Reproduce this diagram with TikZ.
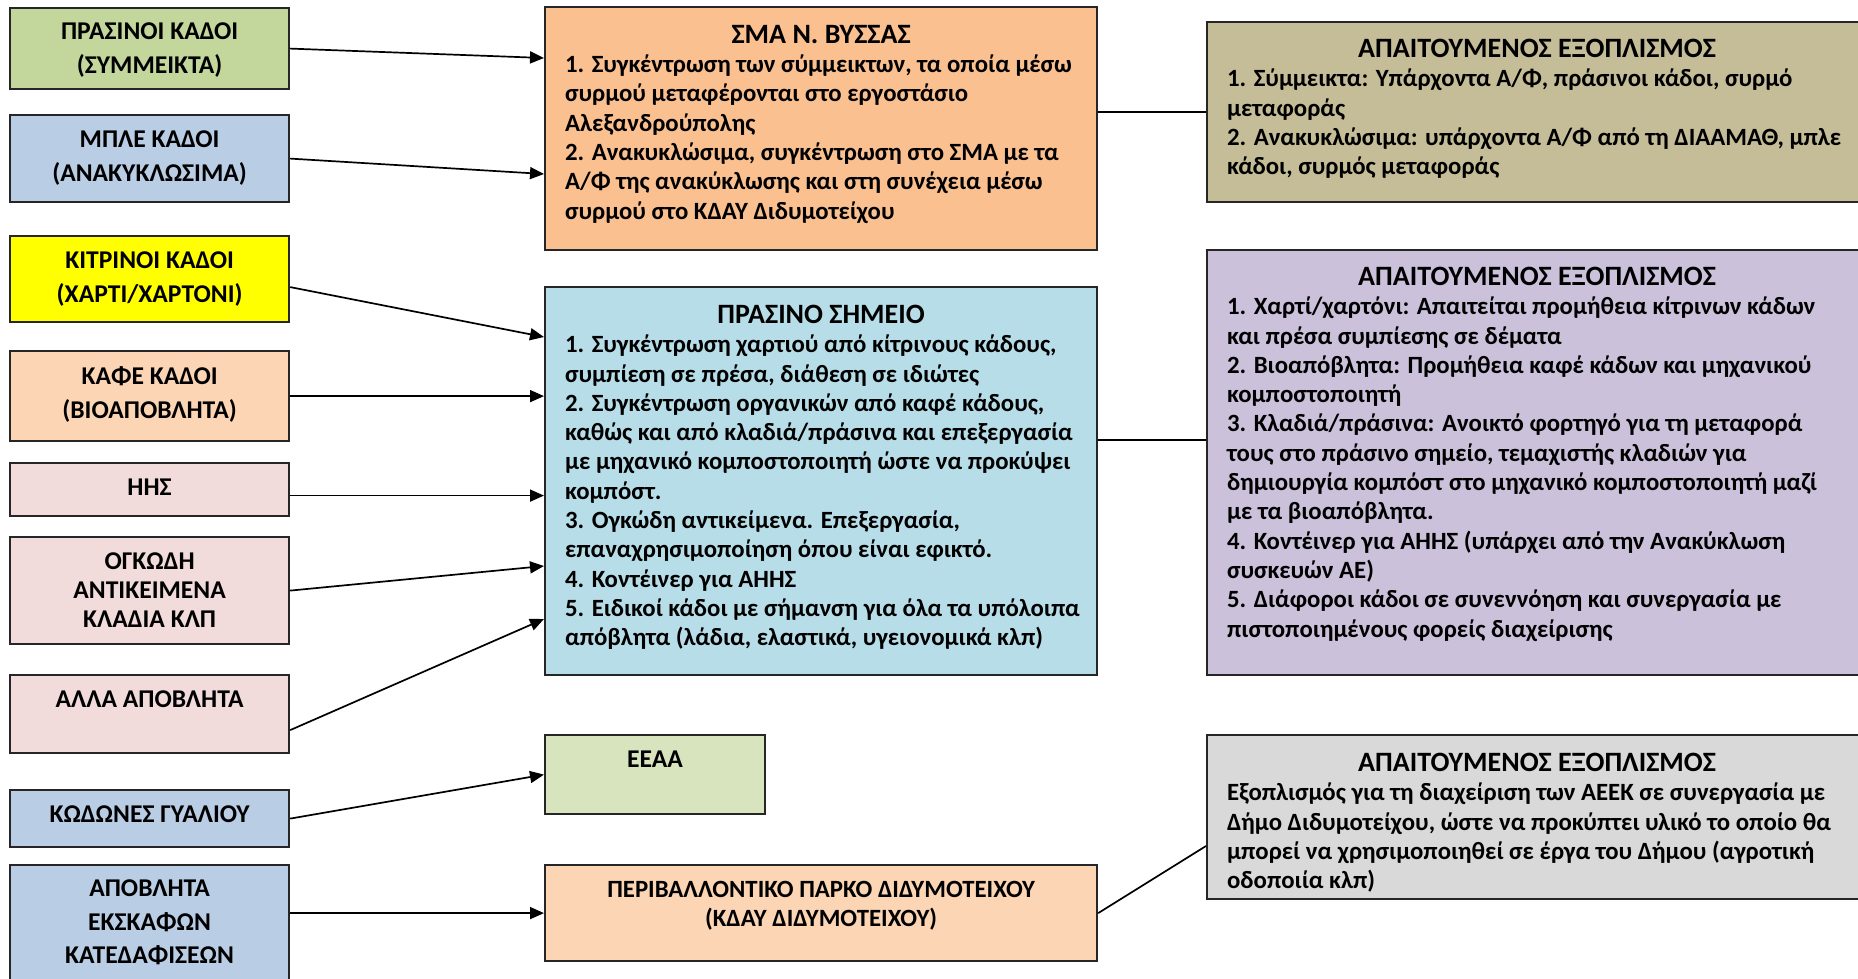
\documentclass[tikz,border=0pt]{standalone}
\usepackage{fontspec}
\setmainfont{Carlito}
\usetikzlibrary{arrows.meta}

\definecolor{mixgreen}{HTML}{C3D69B}
\definecolor{recblue}{HTML}{B9CDE5}
\definecolor{paperyellow}{HTML}{FFFF00}
\definecolor{bioorange}{HTML}{FCD5B5}
\definecolor{weeepink}{HTML}{F2DCDB}
\definecolor{smaorange}{HTML}{FAC090}
\definecolor{pointblue}{HTML}{B7DEE8}
\definecolor{eeaagreen}{HTML}{D7E4BD}
\definecolor{eqtan}{HTML}{C4BD97}
\definecolor{eqlilac}{HTML}{CCC1DA}
\definecolor{eqgrey}{HTML}{D9D9D9}

\newlength{\px}\setlength{\px}{0.5pt}
\newcommand{\boxtext}[4]{\parbox[t][#2\px][t]{#1\px}{\vspace*{#3\px}#4}}
\newcommand{\boxtitle}[1]{{\centering\fontsize{14}{15.5}\selectfont #1\par}\raggedright\leftskip=20\px\relax}

\begin{document}
\begin{tikzpicture}[x=0.5pt,y=-0.5pt,
  bin/.style={draw=black!85,line width=1.1pt,inner sep=0pt,anchor=north west,
    font=\bfseries\fontsize{12.8}{16.6}\selectfont},
  plan/.style={bin,font=\bfseries\fontsize{12.4}{14.65}\selectfont},
  feed/.style={-{Triangle[length=7pt,width=6pt]},line width=0.85pt},
  link/.style={line width=0.85pt}]
  \useasboundingbox (0,0) rectangle (1858,979);

  \node[bin,fill=mixgreen] (green) at (9,7) {\boxtext{279}{81}{15}{\centering ΠΡΑΣΙΝΟΙ ΚΑΔΟΙ\\(ΣΥΜΜΕΙΚΤΑ)}};
  \node[bin,fill=recblue] (blue) at (9,114) {\boxtext{279}{87}{16}{\centering ΜΠΛΕ ΚΑΔΟΙ\\(ΑΝΑΚΥΚΛΩΣΙΜΑ)}};
  \node[bin,fill=paperyellow] (yellow) at (9,235) {\boxtext{279}{86}{16}{\centering ΚΙΤΡΙΝΟΙ ΚΑΔΟΙ\\(ΧΑΡΤΙ/ΧΑΡΤΟΝΙ)}};
  \node[bin,fill=bioorange] (brown) at (9,350) {\boxtext{279}{90}{16}{\centering ΚΑΦΕ ΚΑΔΟΙ\\(ΒΙΟΑΠΟΒΛΗΤΑ)}};
  \node[bin,fill=weeepink] (weee) at (9,462) {\boxtext{279}{53}{16}{\centering ΗΗΣ}};
  \node[bin,fill=weeepink,font=\bfseries\fontsize{12.8}{14.5}\selectfont] (bulky) at (9,536) {\boxtext{279}{107}{16}{\centering ΟΓΚΩΔΗ\\ΑΝΤΙΚΕΙΜΕΝΑ\\ΚΛΑΔΙΑ ΚΛΠ}};
  \node[bin,fill=weeepink] (other) at (9,674) {\boxtext{279}{78}{16}{\centering ΑΛΛΑ ΑΠΟΒΛΗΤΑ}};
  \node[bin,fill=recblue] (glass) at (9,789) {\boxtext{279}{57}{16}{\centering ΚΩΔΩΝΕΣ ΓΥΑΛΙΟΥ}};
  \node[bin,fill=recblue] (debris) at (9,864) {\boxtext{279}{140}{15}{\centering ΑΠΟΒΛΗΤΑ\\ΕΚΣΚΑΦΩΝ\\ΚΑΤΕΔΑΦΙΣΕΩΝ}};

  \node[plan,fill=smaorange] (sma) at (544,6) {\boxtext{552}{243}{18}{\boxtitle{ΣΜΑ Ν. ΒΥΣΣΑΣ}
    1. Συγκέντρωση των σύμμεικτων, τα οποία μέσω\\
    συρμού μεταφέρονται στο εργοστάσιο\\
    Αλεξανδρούπολης\\
    2. Ανακυκλώσιμα, συγκέντρωση στο ΣΜΑ με τα\\
    Α/Φ της ανακύκλωσης και στη συνέχεια μέσω\\
    συρμού στο ΚΔΑΥ Διδυμοτείχου}};
  \node[plan,fill=pointblue] (point) at (544,286) {\boxtext{552}{388}{18}{\boxtitle{ΠΡΑΣΙΝΟ ΣΗΜΕΙΟ}
    1. Συγκέντρωση χαρτιού από κίτρινους κάδους,\\
    συμπίεση σε πρέσα, διάθεση σε ιδιώτες\\
    2. Συγκέντρωση οργανικών από καφέ κάδους,\\
    καθώς και από κλαδιά/πράσινα και επεξεργασία\\
    με μηχανικό κομποστοποιητή ώστε να προκύψει\\
    κομπόστ.\\
    3. Ογκώδη αντικείμενα. Επεξεργασία,\\
    επαναχρησιμοποίηση όπου είναι εφικτό.\\
    4. Κοντέινερ για ΑΗΗΣ\\
    5. Ειδικοί κάδοι με σήμανση για όλα τα υπόλοιπα\\
    απόβλητα (λάδια, ελαστικά, υγειονομικά κλπ)}};
  \node[plan,fill=eeaagreen,font=\bfseries\fontsize{12.8}{14.65}\selectfont] (eeaa) at (544,734) {\boxtext{220}{79}{16}{\centering ΕΕΑΑ}};
  \node[plan,fill=bioorange] (park) at (544,864) {\boxtext{552}{96}{16}{\centering ΠΕΡΙΒΑΛΛΟΝΤΙΚΟ ΠΑΡΚΟ ΔΙΔΥΜΟΤΕΙΧΟΥ\\(ΚΔΑΥ ΔΙΔΥΜΟΤΕΙΧΟΥ)}};

  \node[plan,fill=eqtan] (eqmix) at (1206,21) {\boxtext{660}{180}{17}{\boxtitle{ΑΠΑΙΤΟΥΜΕΝΟΣ ΕΞΟΠΛΙΣΜΟΣ}
    1. Σύμμεικτα: Υπάρχοντα Α/Φ, πράσινοι κάδοι, συρμό\\
    μεταφοράς\\
    2. Ανακυκλώσιμα: υπάρχοντα Α/Φ από τη ΔΙΑΑΜΑΘ, μπλε\\
    κάδοι, συρμός μεταφοράς}};
  \node[plan,fill=eqlilac] (eqpoint) at (1206,249) {\boxtext{660}{425}{17}{\boxtitle{ΑΠΑΙΤΟΥΜΕΝΟΣ ΕΞΟΠΛΙΣΜΟΣ}
    1. Χαρτί/χαρτόνι: Απαιτείται προμήθεια κίτρινων κάδων\\
    και πρέσα συμπίεσης σε δέματα\\
    2. Βιοαπόβλητα: Προμήθεια καφέ κάδων και μηχανικού\\
    κομποστοποιητή\\
    3. Κλαδιά/πράσινα: Ανοικτό φορτηγό για τη μεταφορά\\
    τους στο πράσινο σημείο, τεμαχιστής κλαδιών για\\
    δημιουργία κομπόστ στο μηχανικό κομποστοποιητή μαζί\\
    με τα βιοαπόβλητα.\\
    4. Κοντέινερ για ΑΗΗΣ (υπάρχει από την Ανακύκλωση\\
    συσκευών ΑΕ)\\
    5. Διάφοροι κάδοι σε συνεννόηση και συνεργασία με\\
    πιστοποιημένους φορείς διαχείρισης}};
  \node[plan,fill=eqgrey] (eqpark) at (1206,734) {\boxtext{660}{164}{18}{\boxtitle{ΑΠΑΙΤΟΥΜΕΝΟΣ ΕΞΟΠΛΙΣΜΟΣ}
    Εξοπλισμός για τη διαχείριση των ΑΕΕΚ σε συνεργασία με\\
    Δήμο Διδυμοτείχου, ώστε να προκύπτει υλικό το οποίο θα\\
    μπορεί να χρησιμοποιηθεί σε έργα του Δήμου (αγροτική\\
    οδοποιία κλπ)}};

  \draw[feed] (green.east) -- ([yshift=-26pt]sma.north west);
  \draw[feed] (blue.east) -- ([yshift=-84pt]sma.north west);
  \draw[feed] ([yshift=-4pt]yellow.east) -- ([yshift=-25.5pt]point.north west);
  \draw[feed] (brown.east) -- (brown.east -| point.west);
  \draw[feed] ([yshift=-3pt]weee.east) -- ([yshift=-3pt]weee.east -| point.west);
  \draw[feed] (bulky.east) -- ([yshift=-140pt]point.north west);
  \draw[feed] ([yshift=-8pt]other.east) -- ([yshift=-166.5pt]point.north west);
  \draw[feed] (glass.east) -- (eeaa.west);
  \draw[feed] (debris.east |- park.west) -- (park.west);

  \draw[link] (sma.east |- eqmix.west) -- (eqmix.west);
  \draw[link] ([yshift=-77pt]point.north east) -- ([yshift=-77pt]point.north east -| eqpoint.west);
  \draw[link] (park.east) -- ([yshift=-56pt]eqpark.north west);
\end{tikzpicture}
\end{document}
